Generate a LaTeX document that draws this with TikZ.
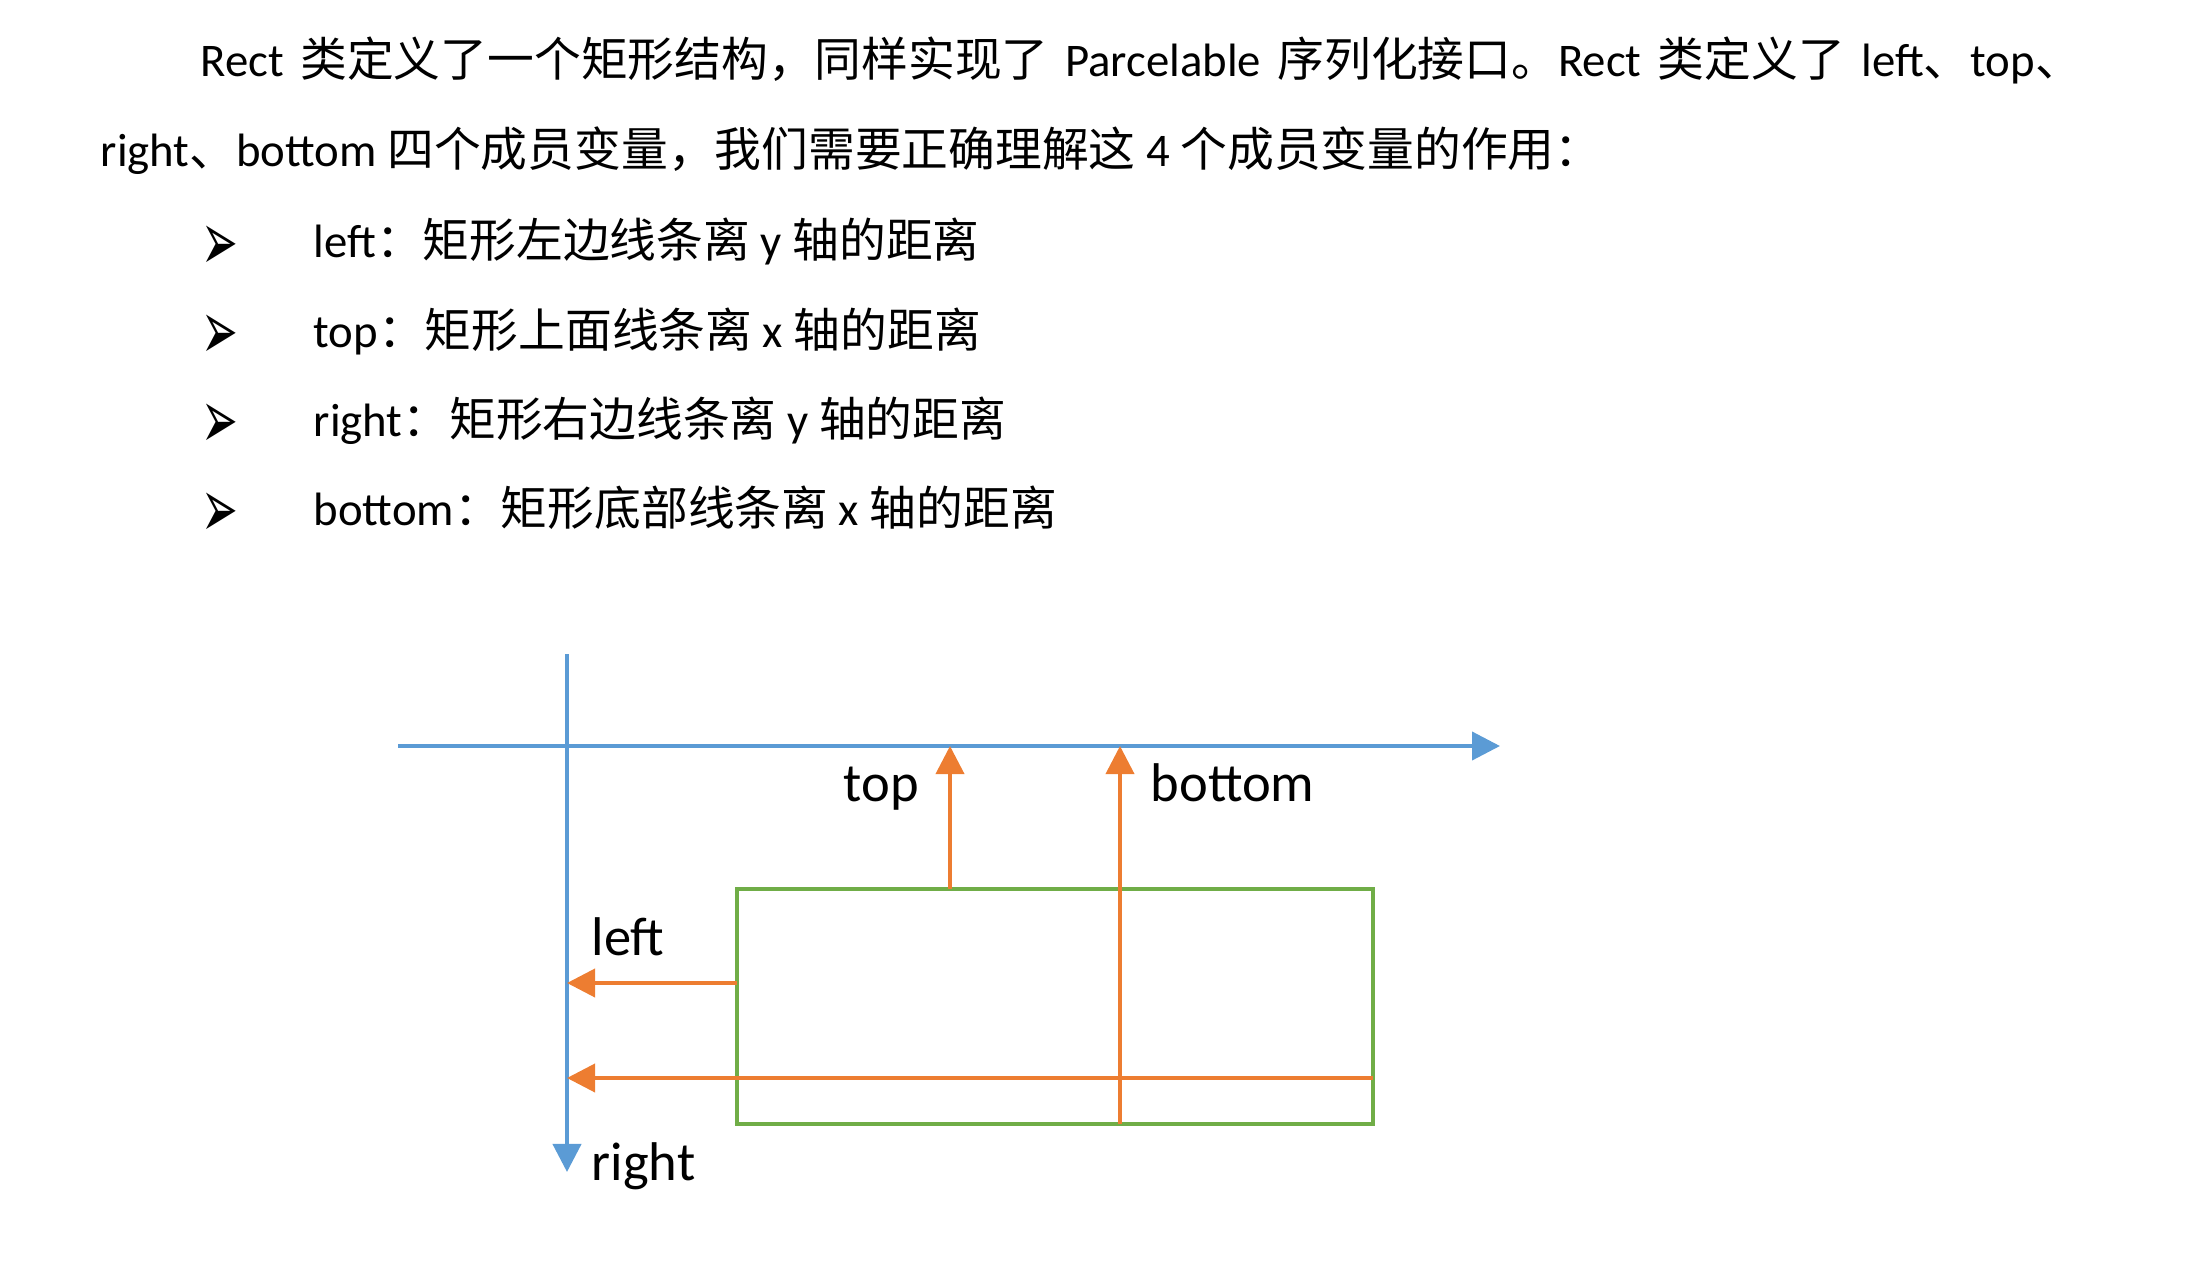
\documentclass[tikz,border=0pt]{standalone}
\usepackage{fontspec}
\usepackage{graphicx}
\setmainfont{Carlito}
\newfontfamily\zhfont{Noto Sans CJK SC}
\newfontfamily\symfont{DejaVu Sans}
\newcommand\zh[1]{{\zhfont #1}}
\usetikzlibrary{
  arrows.meta,
  calc
}
\definecolor{axisblue}{HTML}{5B9BD5}
\definecolor{distorange}{HTML}{ED7D31}
\definecolor{rectgreen}{HTML}{70AD47}
\tikzset{
  axisline/.style={
    axisblue, line width=1.15pt,
    -{Triangle[length=0.28cm,width=0.28cm]}
  },
  distline/.style={
    distorange, line width=1.1pt,
    -{Triangle[length=0.28cm,width=0.28cm]}
  },
  rectbox/.style={
    draw=rectgreen, line width=1.15pt,
    minimum width=6.36cm, minimum height=2.35cm,
    inner sep=0pt, outer sep=0pt
  },
  bodytext/.style={
    anchor=base west, inner sep=0pt,
    font=\fontsize{13.3}{16}\selectfont
  },
  axislabel/.style={
    anchor=base west, inner sep=0pt,
    font=\fontsize{15.5}{18}\selectfont
  }
}

\begin{document}
\begin{tikzpicture}[x=0.01cm, y=-0.01cm]
\useasboundingbox (0,0) rectangle (2200,1282);

% paragraph (first line is justified)
\node[bodytext] (line1) at (200,77)
  {\makebox[18.8cm][s]{Rect \zh{类定义了一个矩形结构，同样实现了} Parcelable \zh{序列化接口。}Rect \zh{类定义了} left\zh{、}top\zh{、}}};
\node[bodytext] (line2) at (100,167)
  {right\zh{、}bottom \zh{四个成员变量，我们需要正确理解这} 4 \zh{个成员变量的作用：}};

% bullet list
\foreach \i/\txt in {
  1/{left\zh{：矩形左边线条离} y \zh{轴的距离}},
  2/{top\zh{：矩形上面线条离} x \zh{轴的距离}},
  3/{right\zh{：矩形右边线条离} y \zh{轴的距离}},
  4/{bottom\zh{：矩形底部线条离} x \zh{轴的距离}}}
{
  \node[bodytext, font=\fontsize{12.5}{15}\symfont] (mark\i) at (201,{270+(\i-1)*89.3}) {\scalebox{1}[1.9]{➢}};
  \node[bodytext] (item\i) at (313,{258+(\i-1)*89.3}) {\txt};
}

% axes
\coordinate (xfrom) at (398,746);
\coordinate (xto) at (1500,746);
\coordinate (yfrom) at (567,654);
\coordinate (yto) at (567,1172);
\draw[axisline] (xfrom) -- (xto);
\draw[axisline] (yfrom) -- (yto);

% the rectangle
\node[rectbox] (rect) at (1055,1006.5) {};

% distances to the axes
\coordinate (topx) at (950,746);
\coordinate (botx) at (1120,746);
\coordinate (lefty) at (567,983);
\coordinate (righty) at (567,1078);
\draw[distline] (rect.north -| topx) -- (topx);
\draw[distline] (rect.south -| botx) -- (botx);
\draw[distline] (rect.west |- lefty) -- (lefty);
\draw[distline] (rect.east |- righty) -- (righty);

\node[axislabel] (toplbl) at (843,801) {top};
\node[axislabel] (botlbl) at (1150,801) {bottom};
\node[axislabel] (leftlbl) at (591,955) {left};
\node[axislabel] (rightlbl) at (591,1180) {right};
\end{tikzpicture}
\end{document}
